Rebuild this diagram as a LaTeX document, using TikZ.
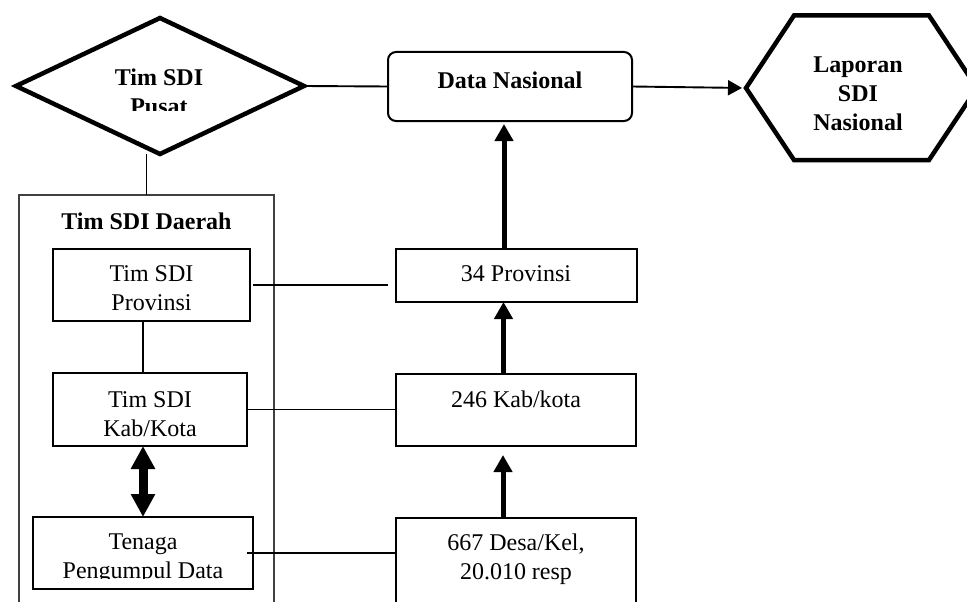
\documentclass[tikz,border=0pt]{standalone}
\usepackage{fontspec}
\setmainfont{Liberation Serif}
\usetikzlibrary{arrows.meta}
\begin{document}
\begin{tikzpicture}[x=1pt,y=-1pt,
  every node/.style={inner sep=0pt, outer sep=0pt},
  txt/.style={align=center, font=\fontsize{24}{29}\selectfont},
  btxt/.style={align=center, font=\fontsize{24}{29}\selectfont\bfseries},
  rbox/.style={draw, line width=2pt},
  thinline/.style={line width=1.9pt},
  bigshape/.style={line width=4.5pt, line join=miter},
  uparrow/.style={line width=5pt, -{Triangle[length=17pt,width=18pt]}},
  thinarrow/.style={line width=1.9pt, -{Triangle[length=14pt,width=15pt]}},
  dblarrow/.style={line width=9pt, {Triangle[length=23pt,width=23pt]}-{Triangle[length=23pt,width=23pt]}}
]
\useasboundingbox (0,0) rectangle (967,602);
\clip (0,0) rectangle (967,602);

% ---- central team (diamond) ----
\coordinate (dL) at (16,86);
\coordinate (dT) at (160,18);
\coordinate (dR) at (304,86);
\coordinate (dB) at (160,154);
\draw[bigshape] (dL) -- (dT) -- (dR) -- (dB) -- cycle;
\begin{scope}
  \clip (0,0) rectangle (967,110);
  \node[btxt] (pusatT) at (159,92.3) {Tim SDI\\Pusat};
\end{scope}

% ---- national data ----
\node[rbox, rounded corners=8pt, minimum width=244pt, minimum height=69pt] (dn) at (510,86.5) {};
\node[btxt] (dnT) at (510,79.8) {Data Nasional};

% ---- national report (hexagon) ----
\coordinate (hL) at (746,88);
\draw[bigshape] (hL) -- (794,15.5) -- (929,15.5) -- (977,88) -- (929,160) -- (794,160) -- cycle;
\node[btxt] (lapT) at (858,93.8) {Laporan\\SDI\\Nasional};

% ---- regional team frame ----
\node[draw=black!75, line width=1.8pt, minimum width=255pt, minimum height=505pt] (daerah) at (146.5,447.5) {};
\node[btxt] (daerahT) at (146.5,220.8) {Tim SDI Daerah};

% ---- regional sub-teams ----
\node[rbox, minimum width=197pt, minimum height=72pt] (prov) at (151.5,285) {};
\node[txt] (provT) at (151.5,287.8) {Tim SDI\\Provinsi};
\node[rbox, minimum width=194pt, minimum height=73pt] (kab) at (150,409.5) {};
\node[txt] (kabT) at (150,414) {Tim SDI\\Kab/Kota};
\node[rbox, minimum width=220pt, minimum height=72pt] (tng) at (143,553) {};
\begin{scope}
  \clip (0,0) rectangle (967,578);
  \node[txt] (tngT) at (143,558.9) {Tenaga\\Pengumpul Data};
\end{scope}

% ---- data levels ----
\node[rbox, minimum width=241pt, minimum height=53pt] (p34) at (516.5,275.5) {};
\node[txt] (p34T) at (516,273.8) {34 Provinsi};
\node[rbox, minimum width=240pt, minimum height=72pt] (k246) at (516,410) {};
\node[txt] (k246T) at (516,398.9) {246 Kab/kota};
\node[rbox, minimum width=240pt, minimum height=100pt] (desa) at (516,568) {};
\node[txt] (desaT) at (516,559.4) {667 Desa/Kel,\\20.010 resp};

% ---- connectors ----
\draw[thinline] (dR) -- (dn.west);
\draw[thinline] (daerah.north) -- (daerah.north |- dB);
\draw[thinarrow, shorten >=4pt] (dn.east) -- (hL);

\draw[uparrow, shorten >=3pt] ([xshift=-12.5pt]p34.north) -- ([xshift=-12.5pt]p34.north |- dn.south);
\draw[uparrow] ([xshift=-12.5pt]k246.north) -- ([xshift=-12.5pt]k246.north |- p34.south);
\draw[uparrow, shorten >=9pt] ([xshift=-13pt]desa.north) -- ([xshift=-13pt]desa.north |- k246.south);

\draw[thinline] ([xshift=-8.5pt]prov.south) -- ([xshift=-8.5pt]prov.south |- kab.north);
\draw[dblarrow] (kab.south -| tng.north) -- (tng.north);

\draw[thinline, shorten <=3pt, shorten >=8pt] (prov.east) -- (prov.east -| p34.west);
\draw[thinline] (kab.east) -- (kab.east -| k246.west);
\draw[thinline, shorten <=-6pt] (tng.east) -- (tng.east -| desa.west);
\end{tikzpicture}
\end{document}
